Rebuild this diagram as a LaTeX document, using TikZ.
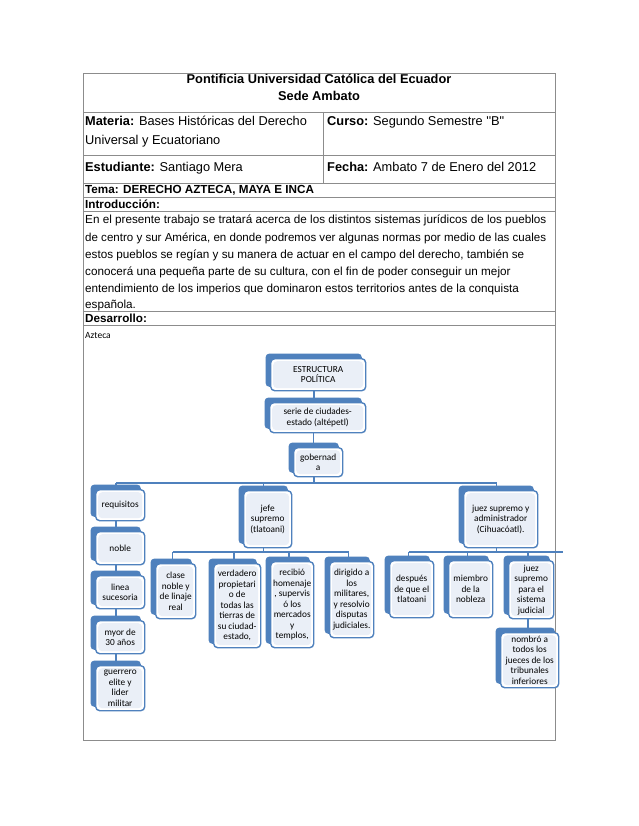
\documentclass[tikz,border=0pt]{standalone}
\usepackage{fontspec}
\newfontfamily\arial{Liberation Sans}
\newfontfamily\calib{Carlito}
\definecolor{sablue}{RGB}{79,129,189}
\definecolor{sainner}{RGB}{234,239,247}
\definecolor{tgray}{RGB}{140,140,140}
\pgfdeclarelayer{bg}
\pgfdeclarelayer{back}
\pgfsetlayers{bg,back,main}
\begin{document}
\begin{tikzpicture}[x=1pt,y=-1pt,
  txt/.style={inner sep=0pt, anchor=base west, font=\arial\fontsize{11.7}{17}\selectfont},
  txtc/.style={txt, anchor=base},
  big/.style={font=\arial\fontsize{12.8}{17}\selectfont},
  grid/.style={draw=tgray, line width=0.8pt},
  conn/.style={draw=sablue, line width=1.5pt},
  tab/.style={fill=sablue, rounded corners=4pt},
  sbox/.style={rectangle, rounded corners=4pt, draw=sablue, line width=1.4pt, fill=white,
    inner sep=1pt, align=center, anchor=north west,
    font=\calib\fontsize{9.3}{10.5}\selectfont,
    path picture={\fill[sainner] ([shift={(2.5pt,-2.5pt)}]path picture bounding box.north west)
      rectangle ([shift={(-2.5pt,2.5pt)}]path picture bounding box.south east);}}
  ]
\begin{pgfonlayer}{bg}
\useasboundingbox[fill=white] (0,0) rectangle (638,826);
\end{pgfonlayer}

% table
\draw[grid] (83,73) rectangle (555,740);
\foreach \yy in {112,155,183,197,211,311,325} \draw[grid] (83,\yy) -- (555,\yy);
\draw[grid] (323,112) -- (323,183);

\node[txtc, big] (t1) at (319,84) {\textbf{Pontificia Universidad Católica del Ecuador}};
\node[txtc, big] (t2) at (319,101) {\textbf{Sede Ambato}};
\node[txt, big] (t3) at (85,126) {\textbf{Materia:} Bases Históricas del Derecho};
\node[txt, big] (t4) at (85,145) {Universal y Ecuatoriano};
\node[txt, big] (t5) at (327,126) {\textbf{Curso:} Segundo Semestre ''B"};
\node[txt, big] (t6) at (85,172) {\textbf{Estudiante:} Santiago Mera};
\node[txt, big] (t7) at (327,172) {\textbf{Fecha:} Ambato 7 de Enero del 2012};
\node[txt] (t8) at (85,194) {\textbf{Tema: DERECHO AZTECA, MAYA E INCA}};
\node[txt] (t9) at (85,208) {\textbf{Introducción:}};
\node[txt] (p1) at (85,224) {En el presente trabajo se tratará acerca de los distintos sistemas jurídicos de los pueblos};
\node[txt, font=\arial\fontsize{11.55}{17}\selectfont] (p2) at (85,241) {de centro y sur América, en donde podremos ver algunas normas por medio de las cuales};
\node[txt] (p3) at (85,258) {estos pueblos se regían y su manera de actuar en el campo del derecho, también se};
\node[txt] (p4) at (85,275) {conocerá una pequeña parte de su cultura, con el fin de poder conseguir un mejor};
\node[txt] (p5) at (85,292) {entendimiento de los imperios que dominaron estos territorios antes de la conquista};
\node[txt] (p6) at (85,308) {española.};
\node[txt] (t10) at (85,322) {\textbf{Desarrollo:}};
\node[txt, font=\calib\fontsize{9.5}{11}\selectfont] (t11) at (85,338) {Azteca};

% diagram boxes
\node[sbox, minimum width=95pt, minimum height=32pt] (estr) at (270,358) {ESTRUCTURA\\POLÍTICA};
\node[sbox, minimum width=96pt, minimum height=30pt] (serie) at (269,402) {serie de ciudades-\\estado (altépetl)};
\node[sbox, minimum width=49pt, minimum height=29pt] (gob) at (293,447) {gobernad\\a};

\node[sbox, minimum width=49pt, minimum height=31pt] (req) at (95,489) {requisitos};
\node[sbox, minimum width=49pt, minimum height=33pt] (noble) at (95,531) {noble};
\node[sbox, minimum width=49pt, minimum height=33pt] (linea) at (95,575) {linea\\sucesoria};
\node[sbox, minimum width=49pt, minimum height=33pt] (myor) at (95,620) {myor de\\30 años};
\node[sbox, minimum width=49pt, minimum height=45pt] (guer) at (95,665) {guerrero\\elite y\\lider\\militar};

\node[sbox, minimum width=48pt, minimum height=57pt] (jefe) at (243,490) {jefe\\supremo\\(tlatoani)};
\node[sbox, minimum width=40pt, minimum height=55pt] (clase) at (155,563) {clase\\noble y\\de linaje\\real};
\node[sbox, minimum width=47pt, minimum height=84pt] (verd) at (213,563) {verdadero\\propietari\\o de\\todas las\\tierras de\\su ciudad-\\estado,};
\node[sbox, minimum width=43pt, minimum height=86pt] (reci) at (270,561) {recibió\\homenaje\\, supervis\\ó los\\mercados\\y\\templos,};
\node[sbox, minimum width=44pt, minimum height=76pt] (diri) at (329,561) {dirigido a\\los\\militares,\\y resolvio\\disputas\\judiciales.};

\node[sbox, minimum width=74pt, minimum height=57pt] (juez) at (463,490) {juez supremo y\\administrador\\(Cihuacóatl).};
\node[sbox, minimum width=44pt, minimum height=57pt] (desp) at (389,560) {después\\de que el\\tlatoani};
\node[sbox, minimum width=44pt, minimum height=57pt] (miem) at (448,560) {miembro\\de la\\nobleza};
\node[sbox, minimum width=45pt, minimum height=58pt] (jsup) at (508,560) {juez\\supremo\\para el\\sistema\\judicial};
\node[sbox, minimum width=58pt, minimum height=55pt] (nomb) at (500,632) {nombró a\\todos los\\jueces de los\\tribunales\\inferiores};

% blue tabs behind the boxes
\begin{pgfonlayer}{back}
\foreach \n in {estr,serie,gob,req,noble,linea,myor,guer,jefe,clase,verd,reci,diri,juez,desp,miem,jsup,nomb}
  \fill[tab] ([shift={(-4.5pt,4.5pt)}]\n.north west) rectangle ([shift={(-4.5pt,4.5pt)}]\n.south east);
\end{pgfonlayer}

% connectors
\coordinate (b1) at (0,483);
\coordinate (b2) at (0,552);
\coordinate (b3end) at (563,552);
\draw[conn] ([xshift=-4pt]estr.south) -- ([xshift=-4pt]estr.south |- serie.north);
\draw[conn] ([xshift=-4pt]serie.south) -- ([xshift=-4pt]serie.south |- gob.north);
\draw[conn] ([xshift=-4pt]gob.south) -- ([xshift=-4pt]gob.south |- b1);
\draw[conn] ([xshift=-4pt]req.north |- b1) -- ([xshift=-4pt]juez.north |- b1);
\draw[conn] ([xshift=-4pt]req.north |- b1) -- ([xshift=-4pt]req.north);
\draw[conn] ([xshift=-4pt]jefe.north |- b1) -- ([xshift=-4pt]jefe.north);
\draw[conn] ([xshift=-4pt]juez.north |- b1) -- ([xshift=-4pt]juez.north);
\draw[conn] ([xshift=-4pt]req.south) -- ([xshift=-4pt]req.south |- noble.north);
\draw[conn] ([xshift=-4pt]noble.south) -- ([xshift=-4pt]noble.south |- linea.north);
\draw[conn] ([xshift=-4pt]linea.south) -- ([xshift=-4pt]linea.south |- myor.north);
\draw[conn] ([xshift=-4pt]myor.south) -- ([xshift=-4pt]myor.south |- guer.north);

\draw[conn] ([xshift=-4pt]jefe.south) -- ([xshift=-4pt]jefe.south |- b2);
\draw[conn] ([xshift=-3pt]clase.north |- b2) -- ([xshift=-3pt]diri.north |- b2);
\foreach \n in {clase,verd,reci,diri}
  \draw[conn] ([xshift=-3pt]\n.north |- b2) -- ([xshift=-3pt]\n.north);

\draw[conn] ([xshift=-4pt]juez.south) -- ([xshift=-4pt]juez.south |- b2);
\draw[conn] ([xshift=-3pt]desp.north |- b2) -- (b3end);
\foreach \n in {desp,miem,jsup}
  \draw[conn] ([xshift=-3pt]\n.north |- b2) -- ([xshift=-3pt]\n.north);
\draw[conn] ([xshift=-3pt]jsup.south) -- ([xshift=-3pt]jsup.south |- nomb.north);
\end{tikzpicture}
\end{document}
